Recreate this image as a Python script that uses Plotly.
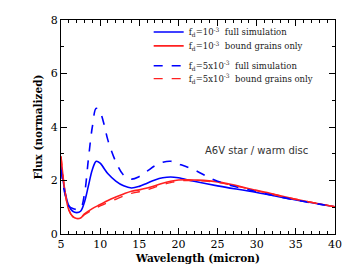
import plotly.graph_objects as go

# data
x_bs = [5, 5.5, 6, 6.5, 7, 7.5, 8, 8.5, 9, 9.5, 10, 10.5, 11, 12, 13, 14, 15, 16, 17, 18, 19, 20, 22, 25, 30, 35, 40]
y_bs = [2.6, 1.6, 1.05, 0.85, 0.8, 0.85, 1.2, 1.8, 2.4, 2.72, 2.65, 2.45, 2.25, 1.98, 1.8, 1.72, 1.78, 1.9, 2.02, 2.1, 2.13, 2.1, 1.97, 1.8, 1.55, 1.27, 1.02]
x_rs = [5, 5.5, 6, 6.5, 7, 7.5, 8, 9, 10, 11, 12, 13, 14, 15, 16, 17, 18, 19, 20, 21, 22, 25, 30, 35, 40]
y_rs = [2.9, 1.6, 0.9, 0.65, 0.58, 0.6, 0.75, 0.95, 1.1, 1.25, 1.38, 1.5, 1.6, 1.65, 1.72, 1.8, 1.9, 1.97, 2.02, 2.03, 2.02, 1.95, 1.63, 1.3, 1.02]
x_bd = [5, 5.5, 6, 6.5, 7, 7.5, 8, 8.5, 9, 9.5, 10, 10.5, 11, 12, 13, 14, 15, 16, 17, 18, 19, 20, 22, 25, 30, 35, 40]
y_bd = [2.4, 1.5, 1.05, 0.95, 0.92, 0.95, 1.5, 2.8, 4.0, 4.7, 4.55, 4.1, 3.5, 2.7, 2.2, 2.05, 2.15, 2.35, 2.55, 2.68, 2.72, 2.62, 2.4, 1.97, 1.58, 1.27, 1.02]
x_rd = [5, 5.5, 6, 6.5, 7, 7.5, 8, 9, 10, 11, 12, 13, 14, 15, 16, 17, 18, 19, 20, 22, 25, 30, 35, 40]
y_rd = [2.9, 1.6, 0.9, 0.66, 0.6, 0.62, 0.72, 0.9, 1.05, 1.18, 1.3, 1.42, 1.52, 1.58, 1.65, 1.75, 1.85, 1.92, 1.98, 2.0, 1.93, 1.62, 1.3, 1.02]

names = ["f<sub>d</sub>=10<sup>-3</sup>  full simulation",
         "f<sub>d</sub>=10<sup>-3</sup>  bound grains only",
         "f<sub>d</sub>=5x10<sup>-3</sup>  full simulation",
         "f<sub>d</sub>=5x10<sup>-3</sup>  bound grains only"]

BLUE = "#0000ff"
RED = "#ff2020"

fig = go.Figure()
fig.add_trace(go.Scatter(x=x_bs, y=y_bs, mode="lines", line=dict(color=BLUE, width=1.6, shape="spline"), name=names[0], legend="legend", showlegend=True))
fig.add_trace(go.Scatter(x=x_rs, y=y_rs, mode="lines", line=dict(color=RED, width=1.6, shape="spline"), name=names[1], legend="legend2", showlegend=True))
fig.add_trace(go.Scatter(x=x_bd, y=y_bd, mode="lines", line=dict(color=BLUE, width=1.6, dash="dash", shape="spline"), name=names[2], legend="legend3", showlegend=True))
fig.add_trace(go.Scatter(x=x_rd, y=y_rd, mode="lines", line=dict(color=RED, width=1.4, dash="dash", shape="spline"), name=names[3], legend="legend4", showlegend=True))

axfont = dict(family="DejaVu Serif", size=11, color="black")
common = dict(showgrid=False, zeroline=False, showline=True, linecolor="black", linewidth=1,
              mirror="allticks", ticks="inside", ticklen=6, tickcolor="black",
              tickfont=axfont)
fig.update_xaxes(range=[5, 40], dtick=5, tick0=5,
                 minor=dict(dtick=1, ticks="inside", ticklen=3, tickcolor="black"),
                 title=dict(text="<b>Wavelength (micron)</b>", font=dict(family="DejaVu Serif", size=10.5, color="black"), standoff=4),
                 **common)
fig.update_yaxes(range=[0, 8], dtick=2,
                 minor=dict(dtick=1, ticks="inside", ticklen=3, tickcolor="black"),
                 title=dict(text="<b>Flux (normalized)</b>", font=dict(family="DejaVu Serif", size=10.5, color="black"), standoff=6),
                 **common)

fig.add_annotation(text="A6V star / warm disc", xref="paper", yref="paper", x=0.91, y=0.39,
                   xanchor="right", yanchor="middle", showarrow=False,
                   font=dict(family="DejaVu Sans", size=10, color="#333333"))

legfont = dict(family="DejaVu Serif", size=8.5, color="#222222")
leg = dict(x=0.32, xanchor="left", yanchor="top", bgcolor="rgba(0,0,0,0)", font=legfont, itemwidth=30)
fig.update_layout(width=354, height=275, margin=dict(l=61, r=19, t=20, b=39),
                  plot_bgcolor="white", paper_bgcolor="white", showlegend=True,
                  legend=dict(y=1.012, **leg),
                  legend2=dict(y=0.947, **leg),
                  legend3=dict(y=0.854, **leg),
                  legend4=dict(y=0.794, **leg))

fig.write_html("out.html", config={"displayModeBar": False},
               post_script="document.body.style.margin='0';")
